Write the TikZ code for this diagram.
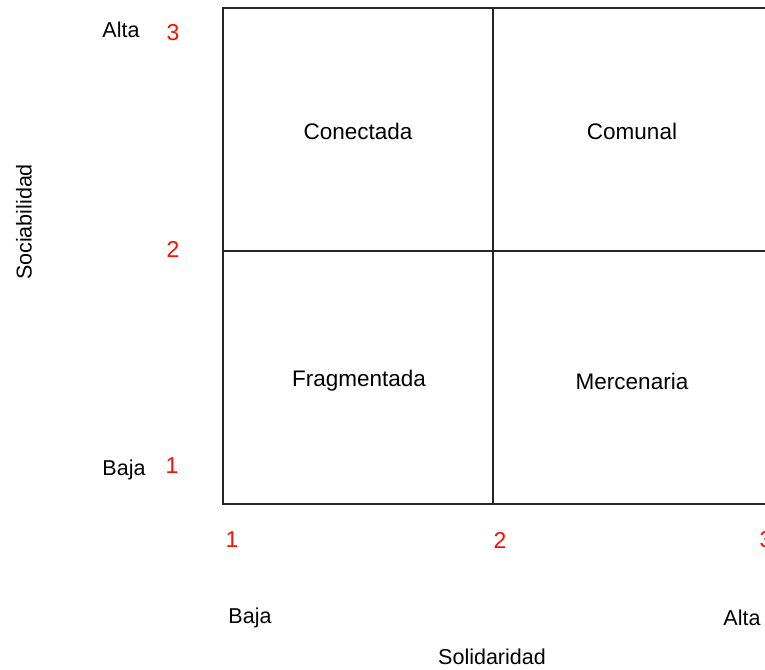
\documentclass[tikz,border=0pt]{standalone}
\usepackage{fontspec}
\setmainfont{Liberation Sans}
\begin{document}
\begin{tikzpicture}[x=1pt,y=-1pt,
  grid/.style={line width=1.8pt,black!85},
  cell/.style={font=\fontsize{22.5}{26}\selectfont},
  lab/.style={font=\fontsize{21.5}{25}\selectfont},
  num/.style={font=\fontsize{23}{26}\selectfont,text=red!90!orange}]
\useasboundingbox (0,0) rectangle (765,669);
\begin{scope}
\clip (0,0) rectangle (765,669);
\coordinate (tl) at (223,8);
\coordinate (tr) at (770,8);
\coordinate (bl) at (223,504);
\coordinate (br) at (770,504);
\coordinate (tm) at (493,8);
\coordinate (bm) at (493,504);
\coordinate (ml) at (223,251);
\coordinate (mr) at (770,251);
\draw[grid] (tr) -- (tl) -- (bl) -- (br);
\draw[grid] (tm) -- (bm);
\draw[grid] (ml) -- (mr);
\node[cell] (c1) at (358,131) {Conectada};
\node[cell] (c2) at (632,131) {Comunal};
\node[cell] (c3) at (359,381) {Fragmentada};
\node[cell] (c4) at (632,381) {Mercenaria};
\node[lab] (ya) at (121,30) {Alta};
\node[lab] (yb) at (124,470) {Baja};
\node[num] (y3) at (173,33) {3};
\node[num] (y2) at (173,249) {2};
\node[num] (y1) at (172,466) {1};
\node[lab,rotate=90] (ylab) at (24,222) {Sociabilidad};
\node[num] (x1) at (232,540) {1};
\node[num] (x2) at (500,540) {2};
\node[num] (x3) at (766,540) {3};
\node[lab] (xb) at (250,618) {Baja};
\node[lab] (xa) at (742,618) {Alta};
\node[lab] (xlab) at (492,657) {Solidaridad};
\end{scope}
\end{tikzpicture}
\end{document}
